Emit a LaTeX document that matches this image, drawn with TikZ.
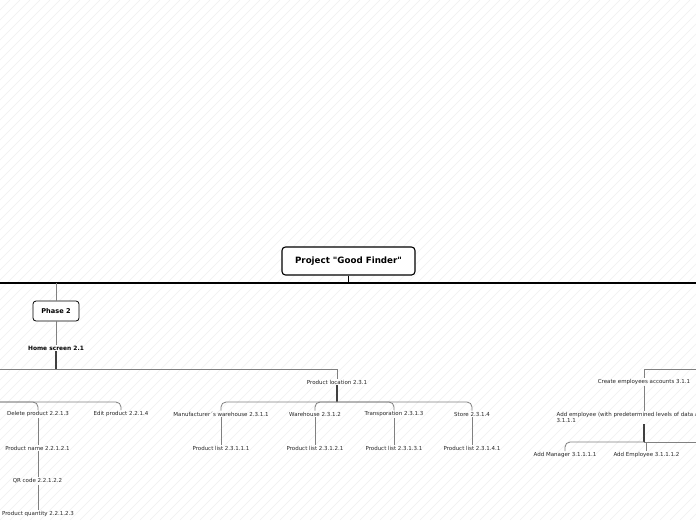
\documentclass[tikz,border=0pt]{standalone}
\usepackage{fontspec}
\setmainfont{DejaVu Sans}[Ligatures=TeXOff]
\begin{document}
\begin{tikzpicture}[x=1pt,y=-1pt,
  lbl/.style={font=\fontsize{5.5}{6.6}\selectfont, text=black!85, inner sep=1pt},
  blbl/.style={font=\fontsize{5.9}{7}\selectfont\bfseries, text=black, inner sep=1pt},
  rootbox/.style={draw=black, line width=1.1pt, rounded corners=3.5pt, fill=white, minimum width=133pt, minimum height=28pt, inner sep=0pt, font=\fontsize{8.7}{10}\selectfont\bfseries},
  phasebox/.style={draw=black, line width=0.8pt, rounded corners=3pt, fill=white, minimum width=46pt, minimum height=20pt, inner sep=0pt, font=\fontsize{6.6}{7.5}\selectfont\bfseries},
  mainline/.style={draw=black, line width=1.1pt},
  conn/.style={draw=black!50, line width=0.8pt},
  stub/.style={draw=black!75, line width=1.6pt},
  hatch/.style={draw=black!6, line width=0.5pt}
]
\useasboundingbox (0,0) rectangle (696,520);
\clip (0,0) rectangle (696,520);
\fill[white] (0,0) rectangle (696,520);
\foreach \i in {-520,-510,...,700} { \draw[hatch] (\i,520) -- (\i+520,0); }

% root and main bar
\node[rootbox] (root) at (348.5,261) {Project "Good Finder"};
\coordinate (L0) at (0,283);
\coordinate (R0) at (696,283);
\draw[mainline] (L0) -- (R0);
\draw[mainline] (root.south) -- (root.south |- L0);

% Phase 2
\node[phasebox] (p2) at (56,311) {Phase 2};
\draw[conn] (p2.north |- L0) -- (p2.north);
\node[blbl] (home) at (56,348) {Home screen 2.1};
\draw[conn] (p2.south) -- (home.north);
\coordinate (b1) at (56,369);
\draw[stub] (home.south) -- (b1);
\coordinate (b1L) at (0,369);

% Product location branch
\node[lbl] (pl) at (337,382) {Product location 2.3.1};
\draw[conn] (b1L) -| (pl.north);
\coordinate (plj) at (337,402);
\draw[stub] (pl.south) -- (plj);
\node[lbl] (mw) at (221,414) {Manufacturer´s warehouse 2.3.1.1};
\node[lbl] (wh) at (315,414) {Warehouse 2.3.1.2};
\node[lbl] (tr) at (394,414) {Transporation 2.3.1.3};
\node[lbl] (st) at (472,414) {Store 2.3.1.4};
\foreach \c in {mw,wh,tr,st} { \draw[conn, rounded corners=5pt] (plj) -| (\c.north); }
\node[lbl] (mwl) at (221,448) {Product list 2.3.1.1.1};
\node[lbl] (whl) at (315,448) {Product list 2.3.1.2.1};
\node[lbl] (trl) at (394,448) {Product list 2.3.1.3.1};
\node[lbl] (stl) at (472,448) {Product list 2.3.1.4.1};
\draw[conn] (mw.south) -- (mwl.north);
\draw[conn] (wh.south) -- (whl.north);
\draw[conn] (tr.south) -- (trl.north);
\draw[conn] (st.south) -- (stl.north);

% Left products branch
\coordinate (lj) at (0,402);
\node[lbl] (del) at (38,414) {Delete product 2.2.1.3};
\node[lbl] (edit) at (121,414) {Edit product 2.2.1.4};
\draw[conn, rounded corners=5pt] (lj) -| (del.north);
\draw[conn, rounded corners=5pt] (lj) -| (edit.north);
\node[lbl] (pn) at (37.5,448) {Product name 2.2.1.2.1};
\node[lbl] (qr) at (37.5,481) {QR code 2.2.1.2.2};
\node[lbl] (pq) at (38,514) {Product quantity 2.2.1.2.3};
\draw[conn] (del.south) -- (del.south |- pn.north);
\draw[conn] (pn.south -| del.south) -- (del.south |- qr.north);
\draw[conn] (qr.south -| del.south) -- (del.south |- pq.north);

% Right employees branch
\coordinate (rj) at (696,369);
\node[lbl] (ce) at (644,382) {Create employees accounts 3.1.1};
\draw[conn] (rj) -| (ce.north);
\node[lbl, anchor=west, align=left] (ae) at (555.5,417.5) {Add employee (with predetermined levels of data access)\\3.1.1.1};
\draw[conn] (ce.south) -- (ce.south |- ae.north);
\coordinate (aej) at (644,442);
\draw[stub] (ce.south |- ae.south) -- (aej);
\node[lbl] (am) at (565,455) {Add Manager 3.1.1.1.1};
\node[lbl] (aem) at (646.5,455) {Add Employee 3.1.1.1.2};
\draw[conn, rounded corners=5pt] (aej) -| (am.north);
\draw[conn] (aej) -| (aem.north);
\coordinate (aeR) at (696,442);
\draw[conn] (aej) -- (aeR);
\end{tikzpicture}
\end{document}
